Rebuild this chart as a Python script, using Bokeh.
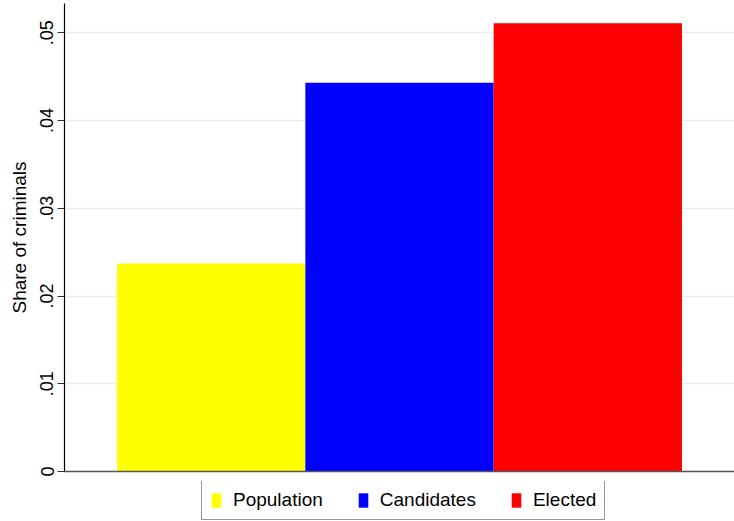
from bokeh.plotting import figure
from bokeh.models import (ColumnDataSource, FactorRange, Range1d, FixedTicker,
                          Legend, LegendItem)
from bokeh.layouts import column
from bokeh.embed import file_html
from bokeh.resources import INLINE

categories = ["Population", "Candidates", "Elected"]
shares = [0.0237, 0.0443, 0.0511]
colors = ["#ffff00", "#0000ff", "#ff0000"]
tick_values = [0.0, 0.01, 0.02, 0.03, 0.04, 0.05]
tick_labels = ["0", ".01", ".02", ".03", ".04", ".05"]

FONT = "Liberation Sans"

src = ColumnDataSource(dict(cat=categories, share=shares, color=colors))

p = figure(width=734, height=481, output_backend="svg", toolbar_location=None,
           x_range=FactorRange(*categories, range_padding=0.186),
           y_range=Range1d(0, 0.05334),
           min_border_left=64, min_border_right=0, min_border_top=3,
           min_border_bottom=10)
p.background_fill_color = "white"
p.border_fill_color = "white"
p.outline_line_color = None

r = p.vbar(x="cat", top="share", width=1.0, bottom=0, fill_color="color",
           line_color=None, source=src)

# y axis
ya = p.yaxis[0]
ya.ticker = FixedTicker(ticks=tick_values)
ya.major_label_overrides = {v: l for v, l in zip(tick_values, tick_labels)}
ya.major_label_orientation = "vertical"
ya.major_label_text_font = FONT
ya.major_label_text_font_size = "18px"
ya.major_label_text_color = "black"
ya.major_label_standoff = 4
ya.major_tick_out = 7
ya.major_tick_in = 0
ya.major_tick_line_color = "#333333"
ya.minor_tick_line_color = None
ya.axis_line_color = "black"
ya.axis_line_width = 1.2
ya.axis_label = "Share of criminals"
ya.axis_label_text_font = FONT
ya.axis_label_text_font_size = "19px"
ya.axis_label_text_font_style = "normal"
ya.axis_label_text_color = "black"
ya.axis_label_standoff = 8

# x axis: line only
xa = p.xaxis[0]
xa.ticker = FixedTicker(ticks=[])
xa.major_tick_line_color = None
xa.minor_tick_line_color = None
xa.axis_line_color = "#555555"
xa.axis_line_width = 1.5

p.xgrid.grid_line_color = None
p.ygrid.grid_line_color = "#e8eff2"
p.ygrid.grid_line_width = 1.5
p.ygrid.ticker = FixedTicker(ticks=tick_values[1:])

# legend strip below the chart
p2 = figure(width=734, height=40, output_backend="svg", toolbar_location=None,
            x_range=FactorRange(*categories), y_range=Range1d(1, 2),
            x_axis_type=None, y_axis_type=None,
            min_border_left=0, min_border_right=0, min_border_top=0,
            min_border_bottom=0)
p2.outline_line_color = None
p2.grid.visible = False
p2.background_fill_color = "white"
p2.border_fill_color = "white"
r2 = p2.vbar(x="cat", top="share", width=1.0, bottom=0, fill_color="color",
             line_color=None, source=src)

legend = Legend(items=[LegendItem(label=c, renderers=[r2], index=i)
                       for i, c in enumerate(categories)],
                orientation="horizontal", location=(137, 1))
legend.label_text_font = FONT
legend.label_text_font_size = "19px"
legend.label_text_color = "black"
legend.glyph_width = 12
legend.glyph_height = 18
legend.label_height = 18
legend.label_standoff = 11
legend.spacing = 34
legend.padding = 8
legend.margin = 0
legend.border_line_color = "#333333"
legend.border_line_width = 1
legend.background_fill_color = "white"
p2.add_layout(legend)

layout = column(p, p2, spacing=0)
open("out.html", "w").write(file_html(layout, INLINE))
